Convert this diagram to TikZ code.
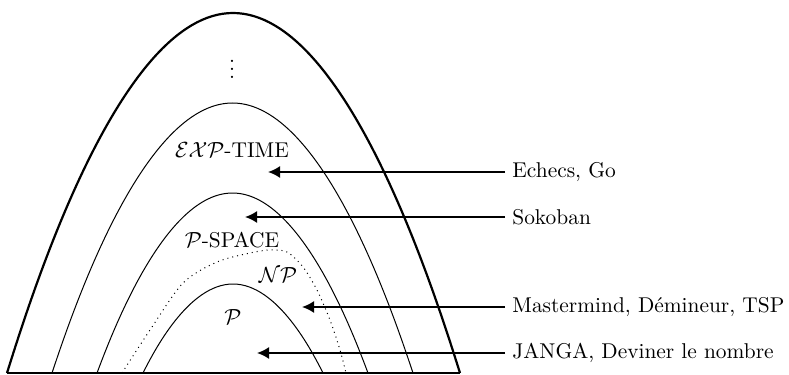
\documentclass[tikz,border=0pt]{standalone}
\usetikzlibrary{arrows.meta}
\tikzset{
  outerclass/.style={line width=1.1pt},
  cplxclass/.style={line width=0.5pt},
  npclass/.style={line width=0.5pt, dotted},
  baseline/.style={line width=0.6pt},
  arrow/.style={-{Latex[length=6pt,width=6pt]}, line width=0.9pt},
  game/.style={anchor=west, inner sep=3.5pt, font=\fontsize{10.7}{13}\selectfont},
  classname/.style={inner sep=1pt, font=\fontsize{10.7}{13}\selectfont}
}

\begin{document}
\begin{tikzpicture}[x=0.5pt,y=-0.5pt]
  \useasboundingbox (0,0) rectangle (789,375);
  % nested classes
  \draw[outerclass] (7,373) parabola bend (233,13) (460,373);
  \draw[cplxclass] (52,373) parabola bend (232.5,103) (413,373);
  \draw[cplxclass] (97,373) parabola bend (232.5,193) (368,373);
  \draw[cplxclass] (143,373) parabola bend (233,284) (323,373);
  \draw[npclass] plot[smooth] coordinates {(122,373) (150,330) (183,283) (217,262) (250,253) (270,250) (287,252) (303,267) (317,290) (330,320) (340,350) (346,373)};
  \draw[baseline] (7,373) -- (460,373);
  % class names
  \node[classname] (dots) at (232,63) {$\vdots$};
  \node[classname] (exptime) at (232,150) {$\mathcal{EXP}$-TIME};
  \node[classname] (pspace) at (232,240) {$\mathcal{P}$-SPACE};
  \node[classname] (np) at (278,275) {$\mathcal{NP}$};
  \node[classname] (p) at (233,317) {$\mathcal{P}$};
  % examples
  \coordinate (tipExp) at (268,172);
  \coordinate (tipPspace) at (245,217);
  \coordinate (tipNp) at (302,307);
  \coordinate (tipP) at (257,353);
  \node[game] (echecs) at (505,172) {Echecs, Go};
  \node[game] (sokoban) at (505,217) {Sokoban};
  \node[game] (mastermind) at (505,307) {Mastermind, Démineur, TSP};
  \node[game] (janga) at (505,353) {JANGA, Deviner le nombre};
  \draw[arrow] (echecs.west) -- (tipExp);
  \draw[arrow] (sokoban.west) -- (tipPspace);
  \draw[arrow] (mastermind.west) -- (tipNp);
  \draw[arrow] (janga.west) -- (tipP);
\end{tikzpicture}
\end{document}
